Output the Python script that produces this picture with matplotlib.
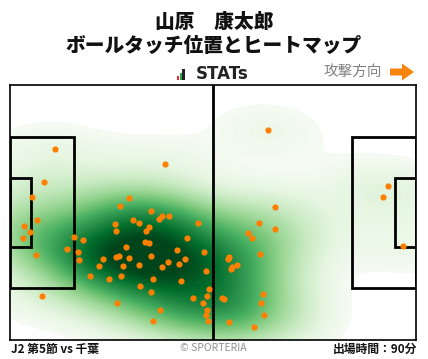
import numpy as np
import matplotlib.pyplot as plt
from matplotlib.colors import PowerNorm
from matplotlib.patches import Rectangle, Polygon

plt.rcParams['font.family'] = ['Noto Sans CJK JP', 'DejaVu Sans']

player = "山原　康太郎"
subtitle = "ボールタッチ位置とヒートマップ"
match_label = "J2 第5節 vs 千葉"
minutes_label = "出場時間：90分"
direction_label = "攻撃方向"
credit = "© SPORTERIA"

# ball touch positions in metres (x: own goal -> opponent goal, y: bottom -> top)
touch_x = [11.7, 40.2, 8.9, 5.8, 30.9, 28.5, 36.5, 39.4, 38.6, 41.2,
           31.9, 33.4, 27.2, 7.1, 3.7, 5.1, 3.4, 27.5, 36.0, 35.3,
           48.7, 45.9, 16.5, 19.0, 35.0, 36.0, 30.1, 14.8, 17.7, 6.8,
           43.3, 50.3, 17.9, 24.1, 27.5, 28.3, 30.9, 36.5, 45.3, 40.9,
           43.8, 23.1, 29.3, 33.4, 39.4, 50.8, 20.8, 28.8, 25.7, 37.1,
           44.3, 33.7, 51.5, 36.5, 8.4, 47.4, 51.0, 27.7, 50.0, 38.9,
           51.0, 50.8, 37.1, 51.3,
           66.8, 68.6, 64.5, 68.6, 61.6, 62.7, 64.7, 56.6, 56.4, 58.8,
           57.5, 57.2, 65.5, 54.9, 55.4, 65.0, 65.8, 56.7, 63.2,
           97.8, 96.5, 101.7]
touch_y = [50.8, 46.8, 42.0, 38.0, 37.7, 35.6, 34.3, 32.9, 32.1, 32.9,
           31.9, 31.1, 30.8, 31.9, 30.3, 28.7, 27.1, 28.9, 30.0, 28.9,
           31.1, 27.1, 27.3, 26.5, 26.0, 25.7, 24.7, 24.1, 23.3, 22.5,
           23.9, 23.3, 21.2, 21.5, 22.0, 22.3, 21.7, 22.3, 21.5, 20.7,
           20.1, 19.6, 19.6, 19.9, 19.3, 18.3, 17.0, 17.0, 16.2, 16.2,
           15.6, 14.3, 13.5, 12.7, 11.6, 11.1, 11.6, 9.8, 9.8, 7.9,
           7.9, 6.6, 5.0, 5.0,
           55.8, 35.3, 31.1, 29.5, 28.4, 27.1, 22.8, 22.0, 21.6, 19.9,
           19.3, 18.8, 12.2, 11.1, 10.8, 9.8, 6.6, 4.7, 3.4,
           40.9, 38.0, 24.9]

L, W = 105, 68

fig = plt.figure(figsize=(4.28, 3.59), dpi=100)
ax = fig.add_axes([10 / 428, 19 / 359, 406 / 428, 255.5 / 359])

# gaussian kde (scott's rule, full covariance), seaborn-like iso-proportion levels
pts = np.vstack([touch_x, touch_y])
n = pts.shape[1]
bw = n ** (-1 / 6) * 1.15
cov = np.cov(pts) * bw ** 2
inv = np.linalg.inv(cov)
gx, gy = np.meshgrid(np.linspace(-30, L + 30, 400), np.linspace(-20, W + 20, 280))
d = np.stack([gx.ravel(), gy.ravel()], 1)[:, None, :] - pts.T[None, :, :]
q = np.einsum('ijk,kl,ijl->ij', d, inv, d)
dens = np.exp(-0.5 * q).sum(1).reshape(gx.shape)

props = np.linspace(0.02, 1, 100)
sv = np.sort(dens.ravel())[::-1]
cs = np.cumsum(sv) / sv.sum()
levels = np.take(sv, np.searchsorted(cs, 1 - props), mode='clip')
levels = np.unique(levels)
norm = PowerNorm(gamma=0.75, vmin=levels[0], vmax=levels[-1] * 0.92)
ax.contourf(gx, gy, dens, levels=levels, cmap='Greens', norm=norm, zorder=1)

# pitch lines
lw = 2
ax.plot([L / 2, L / 2], [0, W], color='black', lw=lw, zorder=2)
for x0, dx in [(0, 16.5), (L - 16.5, 16.5)]:
    ax.add_patch(Rectangle((x0, W / 2 - 20.16), dx, 40.32, fill=False, ec='black', lw=lw, zorder=2))
for x0, dx in [(0, 5.5), (L - 5.5, 5.5)]:
    ax.add_patch(Rectangle((x0, W / 2 - 9.16), dx, 18.32, fill=False, ec='black', lw=lw, zorder=2))

ax.scatter(touch_x, touch_y, s=20, color='#ff8000', lw=0, zorder=3)

ax.set_xlim(0, L)
ax.set_ylim(0, W)
ax.set_xticks([])
ax.set_yticks([])
for s in ax.spines.values():
    s.set_linewidth(1.2)

# header / footer in pixel coordinates
oax = fig.add_axes([0, 0, 1, 1], zorder=5)
oax.set_xlim(0, 428)
oax.set_ylim(359, 0)
oax.axis('off')

oax.text(214, 21.5, player, ha='center', va='center', fontsize=14.2, fontweight='heavy', color='#111111')
oax.text(214, 45.5, subtitle, ha='center', va='center', fontsize=14.2, fontweight='heavy', color='#111111')

# STATs logo
for bx, bh, bc in [(177.0, 4, '#e8262a'), (179.6, 6.5, '#2aa34a'), (182.2, 11, '#222222')]:
    oax.add_patch(Rectangle((bx, 79.5 - bh), 2.4, bh, color=bc, lw=0))
oax.text(196, 74, "STATs", ha='left', va='center', fontsize=12, fontweight='bold',
         family='DejaVu Sans', color='#222222')

oax.text(324, 72, direction_label, ha='left', va='center', fontsize=10.5, color='#808080')
oax.add_patch(Polygon([(390, 68.5), (402, 68.5), (402, 63.5), (414, 72), (402, 80.5),
                       (402, 75.5), (390, 75.5)], closed=True, color='#f7860f', lw=0))

oax.text(11, 349, match_label, ha='left', va='center', fontsize=8.5, fontweight='bold', color='#111111')
oax.text(213, 348, credit, ha='center', va='center', fontsize=7.5, color='#909090')
oax.text(417, 349, minutes_label, ha='right', va='center', fontsize=8.5, fontweight='bold', color='#111111')

fig.savefig('out.png', dpi=100)
